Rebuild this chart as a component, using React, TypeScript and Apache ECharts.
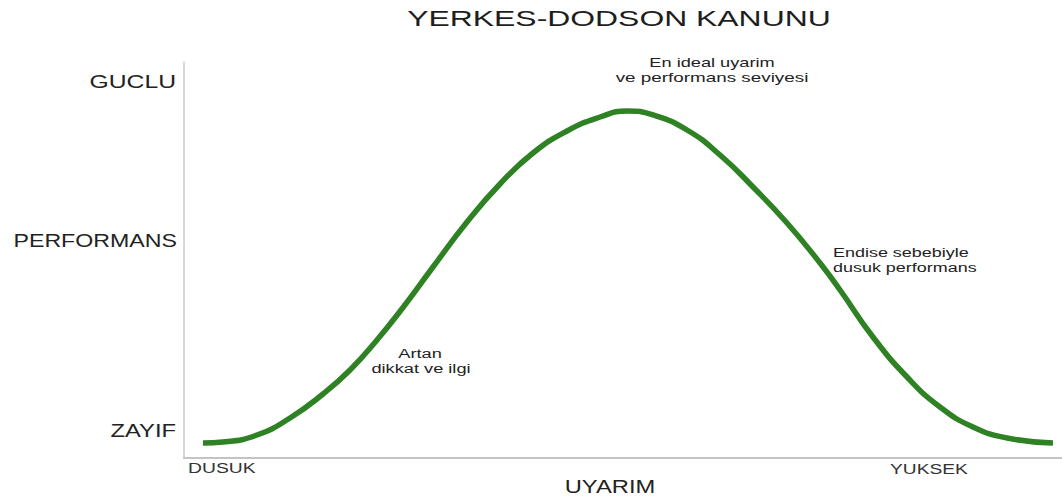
import React, { useEffect, useRef } from "react";
import * as echarts from "echarts";

// Uyarim (arousal) positions, 0 = DUSUK ... 100 = YUKSEK
const arousal = [2.16, 4.44, 8.31, 12.07, 15.83, 18.91, 21.98, 24.94, 28.36, 32.23, 35.99, 39.75, 43.62, 47.38, 50.46, 53.42, 57.29, 61.05, 64.81, 68.68, 72.44, 74.72, 78.47, 82.35, 86.1, 89.86, 93.74, 98.97];
// Performans values, 0 = bottom ... 100 = top
const performance = [3.79, 4.04, 5.81, 10.1, 16.16, 22.22, 29.8, 38.01, 48.23, 59.6, 69.19, 77.02, 82.58, 86.11, 87.63, 86.62, 82.83, 76.52, 68.43, 59.34, 49.24, 42.42, 30.56, 20.45, 12.88, 7.83, 5.05, 3.79];

const titleText = "YERKES-DODSON KANUNU";
const yLabels = ["GUCLU", "PERFORMANS", "ZAYIF"];
const xLabels = ["DUSUK", "YUKSEK"];
const xAxisTitle = "UYARIM";
const notePeak = ["En ideal uyarim", "ve performans seviyesi"];
const noteRise = ["Artan", "dikkat ve ilgi"];
const noteFall = ["Endise sebebiyle", "dusuk performans"];

const FONT = "'Liberation Sans', Arial, sans-serif";

export default function App() {
  const ref = useRef<HTMLDivElement>(null);
  useEffect(() => {
    if (!ref.current) return;
    const chart = echarts.init(ref.current, undefined, { renderer: "svg" });
    const data = arousal.map((x, i) => [x, performance[i]]);
    const txt = (
      text: string,
      x: number,
      y: number,
      size: number,
      align: string,
      scaleX: number,
      color = "#222"
    ) => ({
      type: "text",
      x,
      y,
      scaleX,
      silent: true,
      style: {
        text,
        fontSize: size,
        fontFamily: FONT,
        fill: color,
        textAlign: align,
        textVerticalAlign: "middle",
      },
    });
    chart.setOption({
      animation: false,
      backgroundColor: "#ffffff",
      grid: { left: 184, right: 0, top: 62, bottom: 41 },
      xAxis: {
        type: "value",
        min: 0,
        max: 100,
        axisLine: { show: true, lineStyle: { color: "#c4c4c4", width: 2 } },
        axisTick: { show: false },
        axisLabel: { show: false },
        splitLine: { show: false },
      },
      yAxis: {
        type: "value",
        min: 0,
        max: 100,
        axisLine: { show: true, lineStyle: { color: "#cccccc", width: 1.5 } },
        axisTick: { show: false },
        axisLabel: { show: false },
        splitLine: { show: false },
      },
      series: [
        {
          type: "line",
          data,
          smooth: 0.5,
          symbol: "none",
          lineStyle: { color: "#2e8224", width: 5.5 },
        },
      ],
      graphic: [
        txt(titleText, 619, 18, 22, "center", 1.45, "#1e1e1e"),
        txt(yLabels[0], 176, 82, 19, "right", 1.3),
        txt(yLabels[1], 177, 240, 19, "right", 1.22),
        txt(yLabels[2], 176, 431, 19, "right", 1.25),
        txt(xLabels[0], 188, 468, 14, "left", 1.38, "#333"),
        txt(xLabels[1], 890, 469, 14, "left", 1.37, "#333"),
        txt(xAxisTitle, 610, 487, 18, "center", 1.32, "#222"),
        txt(notePeak[0], 712, 62, 13, "center", 1.4, "#222"),
        txt(notePeak[1], 712, 77, 13, "center", 1.45, "#222"),
        txt(noteRise[0], 420, 353, 13.5, "center", 1.35, "#222"),
        txt(noteRise[1], 421, 368, 13.5, "center", 1.35, "#222"),
        txt(noteFall[0], 833, 252, 13.5, "left", 1.33, "#222"),
        txt(noteFall[1], 833, 267, 13.5, "left", 1.33, "#222"),
      ],
    });
    return () => chart.dispose();
  }, []);
  return (
    <div
      ref={ref}
      style={{ position: "fixed", left: 0, top: 0, width: 1062, height: 499, background: "#fff" }}
    />
  );
}
